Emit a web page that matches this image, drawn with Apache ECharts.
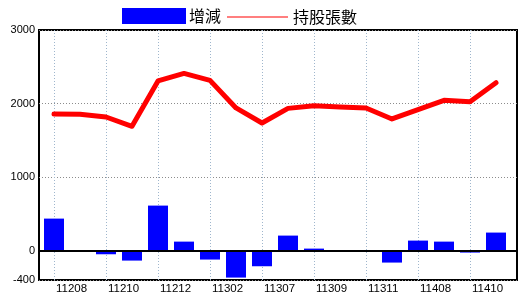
<!DOCTYPE html>
<html lang="zh-Hant">
<head>
<meta charset="UTF-8">
<title>持股張數</title>
<script src="https://cdn.jsdelivr.net/npm/echarts@6/dist/echarts.min.js"></script>
<style>
  html, body { margin: 0; padding: 0; background: #fff; }
  #main { width: 520px; height: 300px; }
</style>
</head>
<body>
<div id="main"></div>
<script>
// 月份（民國年月）
let months = ['11208', '11209', '11210', '11211', '11212', '11301', '11302', '11303', '11307',
    '11308', '11309', '11310', '11311', '11312', '11408', '11409', '11410', '11411'];
// 增減
let changes = [435, 0, -50, -136, 612, 122, -122, -367, -213,
    204, 27, 0, 0, -163, 136, 122, -27, 245];
// 持股張數
let holdings = [1858, 1855, 1817, 1690, 2307, 2410, 2315, 1940, 1735,
    1934, 1971, 1953, 1940, 1790, 1917, 2043, 2025, 2284];
// 有標示的月份位置、Y軸刻度
let labelIdx = [0, 2, 4, 6, 8, 10, 12, 14, 16];
let yTicks = [-400, 0, 1000, 2000, 3000];

let myChart = echarts.init(document.getElementById('main'));

let sans = '"Liberation Sans", Arial, sans-serif';
let cjk = '"Noto Sans CJK TC", "Noto Sans CJK SC", sans-serif';

myChart.setOption({
    animation: false,
    legend: [{
        left: 122,
        top: 8,
        padding: 0,
        itemWidth: 64,
        itemHeight: 16,
        icon: 'rect',
        data: ['增減'],
        textStyle: { fontFamily: cjk, fontSize: 16, color: '#000', padding: [0, 0, 0, -2] }
    }, {
        left: 227,
        top: 9,
        padding: 0,
        itemWidth: 61,
        itemHeight: 1,
        icon: 'rect',
        data: ['持股張數'],
        textStyle: { fontFamily: cjk, fontSize: 16, color: '#000' }
    }],
    grid: {
        left: 39,
        right: 3,
        top: 30,
        bottom: 20,
        show: true,
        borderColor: '#000',
        borderWidth: 2
    },
    xAxis: {
        type: 'value',
        min: -15 / 26,
        max: 17 + 21 / 26,
        axisLine: { show: false },
        axisTick: { show: false, customValues: labelIdx },
        axisLabel: {
            customValues: labelIdx,
            formatter: function (v) { return months[v]; },
            align: 'left',
            padding: [0, 0, 0, 2],
            margin: 3,
            color: '#000',
            fontFamily: sans,
            fontSize: 11.5
        },
        splitLine: { show: true, lineStyle: { color: '#9fb6cd', type: [1, 2], width: 1 } }
    },
    yAxis: {
        type: 'value',
        min: -400,
        max: 3000,
        axisLine: { show: false },
        axisTick: { show: false, customValues: yTicks },
        axisLabel: {
            customValues: yTicks,
            formatter: function (v) { return String(v); },
            margin: 4,
            color: '#000',
            fontFamily: sans,
            fontSize: 11
        },
        splitLine: { show: true, lineStyle: { color: '#8c8c8c', type: [1, 2], width: 1 } }
    },
    series: [{
        name: '增減',
        type: 'bar',
        barWidth: 20,
        itemStyle: { color: '#0000ff' },
        data: changes.map(function (v, i) { return [i, v]; }),
        markLine: {
            silent: true,
            symbol: 'none',
            label: { show: false },
            lineStyle: { color: '#000', type: 'solid', width: 2 },
            data: [{ yAxis: 0 }]
        }
    }, {
        name: '持股張數',
        type: 'line',
        symbol: 'none',
        itemStyle: { color: '#ff0000' },
        lineStyle: { color: '#ff0000', width: 5, cap: 'round', join: 'round' },
        data: holdings.map(function (v, i) { return [i, v]; })
    }]
});
</script>
</body>
</html>
